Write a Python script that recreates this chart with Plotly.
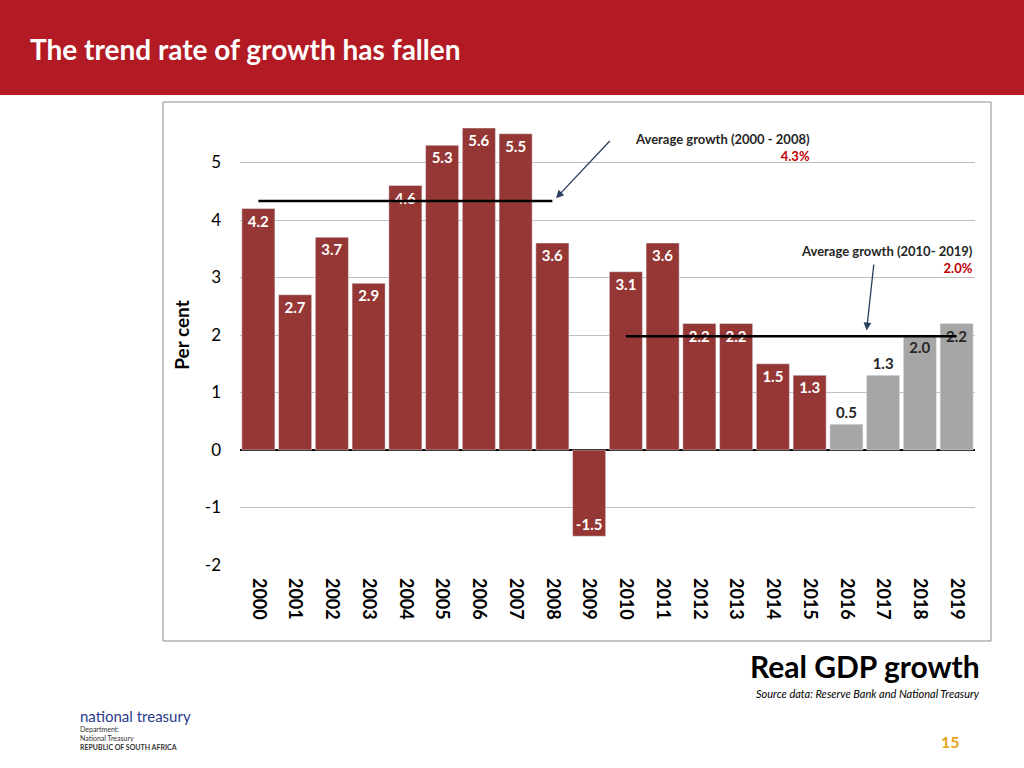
import plotly.graph_objects as go

years = list(range(2000, 2020))
growth = [4.2, 2.7, 3.7, 2.9, 4.6, 5.3, 5.6, 5.5, 3.6, -1.5,
          3.1, 3.6, 2.2, 2.2, 1.5, 1.3, 0.45, 1.3, 2.0, 2.2]
labels = ['4.2', '2.7', '3.7', '2.9', '4.6', '5.3', '5.6', '5.5', '3.6', '-1.5',
          '3.1', '3.6', '2.2', '2.2', '1.5', '1.3', '0.5', '1.3', '2.0', '2.2']
forecast_from = 2016
avg1, avg2 = 4.33, 1.98

RED = '#953735'
GREY = '#a6a6a6'
colors = [GREY if y >= forecast_from else RED for y in years]
txtcol = ['#262626' if y >= forecast_from else 'white' for y in years]
pos = ['outside' if y in (2016, 2017) else 'inside' for y in years]

fig = go.Figure(go.Bar(
    x=years, y=growth, marker_color=colors, width=0.9,
    text=['<b>%s</b>' % t for t in labels], textposition=pos, insidetextanchor='end',
    textfont=dict(color=txtcol, size=15, family='Lato'), cliponaxis=False,
    textangle=0, constraintext='none'))

fig.add_shape(type='line', x0=2000, x1=2008, y0=avg1, y1=avg1, line=dict(color='black', width=2.5))
fig.add_shape(type='line', x0=2010, x1=2019, y0=avg2, y1=avg2, line=dict(color='black', width=2.5))

def px(xp): return (xp - 240) / 735
def py(yp): return (565 - yp) / 460

def note(x, y, text, size, color='black', xanchor='center'):
    fig.add_annotation(xref='paper', yref='paper', x=px(x), y=py(y), text=text, showarrow=False,
                       xanchor=xanchor, yanchor='middle', align=xanchor if xanchor != 'center' else 'center',
                       font=dict(size=size, family='Lato', color=color))

# banner and frame
fig.add_shape(type='rect', xref='paper', yref='paper', x0=px(0), x1=px(1024), y0=py(95), y1=py(0),
              fillcolor='#b31b24', line_width=0, layer='below')
fig.add_shape(type='rect', xref='paper', yref='paper', x0=px(163), x1=px(991), y0=py(641), y1=py(102),
              line=dict(color='#8c8c8c', width=1), layer='below')

note(28, 49, '<b>The trend rate of growth has fallen</b>', 28, 'white', 'left')
fig.add_annotation(x=2008.1, y=avg1 + 0.05, ax=2009.6, ay=5.4, axref='x', ayref='y',
                   text='', showarrow=True, arrowhead=2, arrowwidth=1.3, arrowsize=1.2)
note(812, 147, '<b>Average growth (2000 - 2008)</b><br><b><span style="color:#c00000">4.3%</span></b>',
     13, '#262626', 'right')
fig.add_annotation(x=2016.55, y=avg2 + 0.1, ax=2016.75, ay=3.25, axref='x', ayref='y',
                   text='', showarrow=True, arrowhead=2, arrowwidth=1.3, arrowsize=1.2)
note(975, 259, '<b>Average growth (2010- 2019)</b><br><b><span style="color:#c00000">2.0%</span></b>',
     13, '#262626', 'right')
note(982, 666, '<b>Real GDP growth</b>', 30, 'black', 'right')
note(982, 693, '<i>Source data: Reserve Bank and National Treasury</i>', 11, 'black', 'right')
note(950, 741, '<b>15</b>', 16, '#e8a317')
note(78, 716, 'national treasury', 15, '#2b3a8c', 'left')
note(78, 738, 'Department:<br>National Treasury<br><b>REPUBLIC OF SOUTH AFRICA</b>', 7, '#333', 'left')

fig.update_layout(
    width=1024, height=768, paper_bgcolor='white', plot_bgcolor='white',
    margin=dict(l=240, r=49, t=105, b=203), showlegend=False,
    font=dict(family='Lato', color='black'),
    xaxis=dict(tickmode='array', tickvals=years, ticktext=['<b>%d</b>' % y for y in years],
               tickangle=90, tickfont=dict(size=18), showgrid=False, zeroline=False,
               range=[1999.5, 2019.5], ticks='', ticklabelstandoff=12),
    yaxis=dict(range=[-2, 6], tickvals=[-2, -1, 0, 1, 2, 3, 4, 5],
               ticktext=['-2', '-1', '0', '1', '2', '3', '4', '5'], tickfont=dict(size=17),
               showgrid=True, gridcolor='#bfbfbf', zeroline=True, zerolinecolor='black', zerolinewidth=1.5,
               ticklabelstandoff=18,
               title=dict(text='<b>Per cent</b>', font=dict(size=19), standoff=10)),
)
fig.write_html('out.html', config={'displayModeBar': False},
               post_script="document.body.style.margin='0';")
